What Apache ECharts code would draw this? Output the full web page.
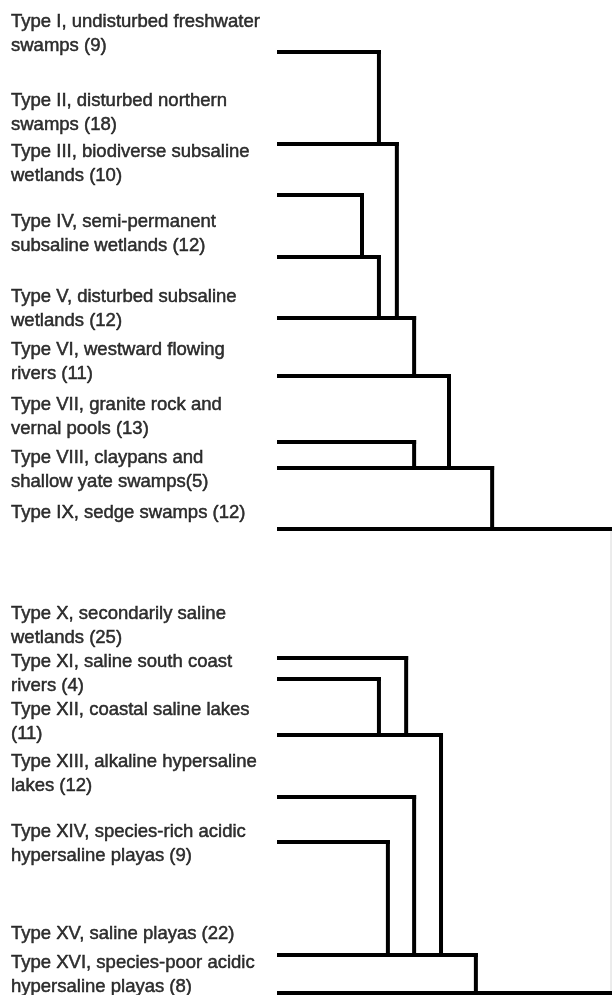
<!DOCTYPE html>
<html>
<head>
<meta charset="utf-8">
<script src="https://cdn.jsdelivr.net/npm/echarts@6/dist/echarts.min.js"></script>
<style>
html,body{margin:0;padding:0;background:#fff;}
#chart{width:612px;height:995px;}
</style>
</head>
<body>
<div id="chart"></div>
<script>
// Wetland types (leaves of the dendrogram), top to bottom
const labels = [
  'Type I, undisturbed freshwater\nswamps (9)',
  'Type II, disturbed northern\nswamps (18)',
  'Type III, biodiverse subsaline\nwetlands (10)',
  'Type IV, semi-permanent\nsubsaline wetlands (12)',
  'Type V, disturbed subsaline\nwetlands (12)',
  'Type VI, westward flowing\nrivers (11)',
  'Type VII, granite rock and\nvernal pools (13)',
  'Type VIII, claypans and\nshallow yate swamps(5)',
  'Type IX, sedge swamps (12)',
  'Type X, secondarily saline\nwetlands (25)',
  'Type XI, saline south coast\nrivers (4)',
  'Type XII, coastal saline lakes\n(11)',
  'Type XIII, alkaline hypersaline\nlakes (12)',
  'Type XIV, species-rich acidic\nhypersaline playas (9)',
  'Type XV, saline playas (22)',
  'Type XVI, species-poor acidic\nhypersaline playas (8)'
];
// leaf row positions along the vertical axis
const leafPos  = [52, 144, 195, 257, 318, 376, 442, 468, 529, 658, 679, 735, 797, 842, 955, 993];
// label block positions along the vertical axis
const labelPos = [34, 113, 164, 234, 309, 362, 417, 470, 513, 626, 674, 722, 774, 844, 934, 975];
// fusions: [childA, childB, dissimilarity]; new node ids start at 16
const merges = [
  [0, 1, 0.301],    // 16: I + II
  [2, 3, 0.250],    // 17: III + IV
  [17, 4, 0.301],   // 18: + V
  [16, 18, 0.355],  // 19
  [19, 5, 0.407],   // 20: + VI
  [6, 7, 0.407],    // 21: VII + VIII
  [20, 21, 0.512],  // 22
  [22, 8, 0.642],   // 23: + IX
  [10, 11, 0.301],  // 24: XI + XII
  [9, 24, 0.383],   // 25: X + ...
  [13, 14, 0.328],  // 26: XIV + XV
  [12, 26, 0.407],  // 27: XIII + ...
  [25, 27, 0.488],  // 28
  [28, 15, 0.593]   // 29: + XVI
];
const topLevel = 1.0;

// build segments of the stepped dendrogram
const nodes = leafPos.map(y => ({y: y, h: 0}));
const parentH = {};
const segs = [];
merges.forEach(m => {
  const a = m[0], b = m[1], h = m[2];
  nodes.push({y: nodes[b].y, h: h});
  parentH[a] = h; parentH[b] = h;
  segs.push([h, nodes[a].y, h, nodes[b].y]);
});
const roots = [];
nodes.forEach((n, i) => {
  const ph = parentH[i] !== undefined ? parentH[i] : topLevel;
  if (parentH[i] === undefined) roots.push(n.y);
  segs.push([n.h, n.y, ph, n.y]);
});
const faint = [[topLevel, roots[0], topLevel, 995]];

const chart = echarts.init(document.getElementById('chart'), null, {renderer: 'canvas'});
const segRender = (width, color) => function (params, api) {
  const p1 = api.coord([api.value(0), api.value(1)]);
  const p2 = api.coord([api.value(2), api.value(3)]);
  return {
    type: 'line',
    shape: {x1: p1[0], y1: p1[1], x2: p2[0], y2: p2[1]},
    style: {stroke: color, lineWidth: width, lineCap: 'square'}
  };
};

chart.setOption({
  animation: false,
  backgroundColor: '#fff',
  grid: [
    {left: 279, right: 1, top: 0, bottom: 0},
    {left: 11, width: 260, top: 0, bottom: 0}
  ],
  xAxis: [
    {gridIndex: 0, type: 'value', min: 0, max: 1, show: false},
    {gridIndex: 1, type: 'value', min: 0, max: 1, show: false}
  ],
  yAxis: [
    {gridIndex: 0, type: 'value', min: 0, max: 995, inverse: true, show: false},
    {gridIndex: 1, type: 'value', min: 0, max: 995, inverse: true, show: false}
  ],
  series: [
    {
      type: 'custom', xAxisIndex: 0, yAxisIndex: 0, clip: false,
      renderItem: segRender(1, '#d8d8d8'),
      data: faint, silent: true
    },
    {
      type: 'custom', xAxisIndex: 0, yAxisIndex: 0, clip: false,
      renderItem: segRender(4, '#000'),
      data: segs, silent: true
    },
    {
      type: 'scatter', xAxisIndex: 1, yAxisIndex: 1, clip: false,
      symbolSize: 0, silent: true,
      data: labels.map((t, i) => ({value: [0, labelPos[i]], name: t})),
      label: {
        show: true, position: 'right', distance: 0,
        formatter: p => p.name,
        fontFamily: 'Liberation Sans, Arial, sans-serif',
        fontSize: 18.5, lineHeight: 23.5, color: '#000',
        textBorderColor: '#000', textBorderWidth: 0.5,
        align: 'left', verticalAlign: 'middle'
      }
    }
  ]
});
</script>
</body>
</html>
